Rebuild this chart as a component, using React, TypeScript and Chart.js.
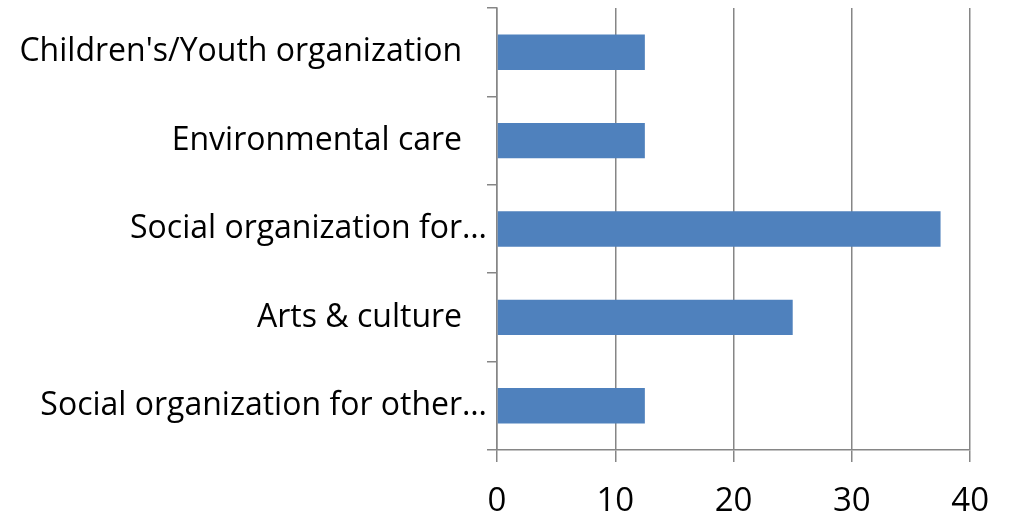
import React, { useEffect, useRef } from "react";
import { Chart, registerables } from "chart.js";
Chart.register(...registerables);

const categories = [
  "Children's/Youth organization",
  "Environmental care",
  "Social organization for…",
  "Arts & culture",
  "Social organization for other…",
];
const values = [12.5, 12.5, 37.5, 25, 12.5];
const xMin = 0;
const xMax = 40;
const xStep = 10;

const FONT = "'Open Sans', 'DejaVu Sans', sans-serif";
const GRID = "#868686";

export default function App() {
  const ref = useRef<HTMLCanvasElement>(null);
  useEffect(() => {
    const chart = new Chart(ref.current!, {
      type: "bar",
      data: {
        labels: categories,
        datasets: [
          {
            data: values,
            backgroundColor: "#4F81BD",
            borderWidth: 0,
            categoryPercentage: 1,
            barPercentage: 0.4,
          },
        ],
      },
      options: {
        indexAxis: "y",
        animation: false,
        responsive: false,
        maintainAspectRatio: false,
        layout: { padding: { top: 8, right: 38, left: 0, bottom: 0 } },
        plugins: { legend: { display: false }, tooltip: { enabled: false } },
        scales: {
          x: {
            min: xMin,
            max: xMax,
            ticks: { stepSize: xStep, font: { family: FONT, size: 33 }, color: "#000", padding: 20 },
            grid: { color: GRID, lineWidth: 1.5, tickLength: 12 },
            border: { color: GRID, width: 1.5 },
            afterFit: (s: any) => {
              s.height = 66;
            },
          },
          y: {
            ticks: {
              font: { family: FONT, size: 32 },
              color: "#000",
              padding: 0,
              callback: function (this: any, v: any) {
                const l = this.getLabelForValue(v) as string;
                return l.endsWith("…") ? l : l + "   ";
              },
            },
            grid: { offset: true, drawOnChartArea: false, tickLength: 10, color: GRID, lineWidth: 1.5 },
            border: { color: GRID, width: 1.5 },
            afterFit: (s: any) => {
              s.width = 497;
              s.paddingTop = 0;
              s.paddingBottom = 0;
            },
          },
        },
      },
    });
    return () => chart.destroy();
  }, []);
  return (
    <div style={{ position: "absolute", left: 0, top: 0, width: 1009, height: 516, background: "#fff" }}>
      <canvas ref={ref} width={1009} height={516} style={{ display: "block" }} />
    </div>
  );
}
